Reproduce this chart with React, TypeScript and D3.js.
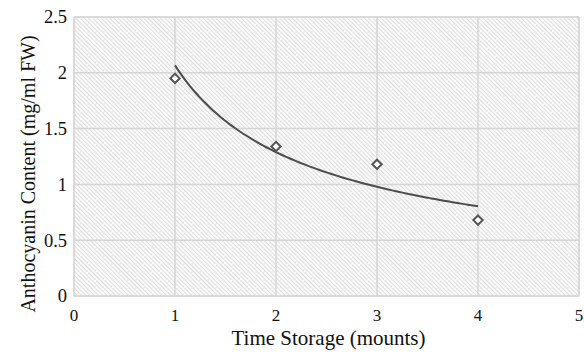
import React from "react";
import * as d3 from "d3";

// data
const months = [1, 2, 3, 4];
const anthocyanin = [1.95, 1.34, 1.18, 0.68];
const xTicks = [0, 1, 2, 3, 4, 5];
const yTicks = [0, 0.5, 1, 1.5, 2, 2.5];

const width = 584;
const height = 352;
const margin = { top: 17, right: 5, bottom: 56, left: 74 };
const font = "'Liberation Serif', 'Times New Roman', serif";

// power trendline y = a * x^b, least squares in log space
const powerFit = (xs: number[], ys: number[]) => {
  const lx = xs.map(Math.log);
  const ly = ys.map(Math.log);
  const mx = d3.mean(lx) as number;
  const my = d3.mean(ly) as number;
  const sxy = d3.sum(lx, (v, i) => (v - mx) * (ly[i] - my));
  const sxx = d3.sum(lx, (v) => (v - mx) * (v - mx));
  const b = sxy / sxx;
  const a = Math.exp(my - b * mx);
  return (x: number) => a * Math.pow(x, b);
};

const App = () => {
  const innerW = width - margin.left - margin.right;
  const innerH = height - margin.top - margin.bottom;

  const x = d3.scaleLinear().domain([0, 5]).range([0, innerW]);
  const y = d3.scaleLinear().domain([0, 2.5]).range([innerH, 0]);

  const fit = powerFit(months, anthocyanin);
  const [x0, x1] = d3.extent(months) as [number, number];
  const fitPts = d3.range(0, 61).map((i) => {
    const xv = x0 + ((x1 - x0) * i) / 60;
    return [xv, fit(xv)] as [number, number];
  });
  const line = d3
    .line<[number, number]>()
    .x((d) => x(d[0]))
    .y((d) => y(d[1]))
    .curve(d3.curveMonotoneX);

  const diamond = d3.symbol().type(d3.symbolDiamond2).size(55)() as string;

  return (
    <svg
      width={width}
      height={height}
      style={{ position: "absolute", left: 0, top: 0, background: "#fff" }}
    >
      <defs>
        <pattern
          id="hatch"
          patternUnits="userSpaceOnUse"
          width={3}
          height={3}
          patternTransform="rotate(-45)"
        >
          <rect width={3} height={3} fill="#fafafa" />
          <line x1={0} y1={0} x2={0} y2={3} stroke="#cfcfcf" strokeWidth={1.3} />
        </pattern>
      </defs>
      <g transform={`translate(${margin.left},${margin.top})`}>
        <rect width={innerW} height={innerH} fill="url(#hatch)" stroke="#d9d9d9" />
        {yTicks.map((t) => (
          <line key={"gy" + t} x1={0} x2={innerW} y1={y(t)} y2={y(t)} stroke="#d6d6d6" strokeWidth={1.5} />
        ))}
        {xTicks.map((t) => (
          <line key={"gx" + t} x1={x(t)} x2={x(t)} y1={0} y2={innerH} stroke="#d6d6d6" strokeWidth={1.5} />
        ))}
        <path d={line(fitPts) as string} fill="none" stroke="#4d4d4d" strokeWidth={2} />
        {months.map((m, i) => (
          <path
            key={"p" + m}
            d={diamond}
            transform={`translate(${x(m)},${y(anthocyanin[i])})`}
            fill="#fff"
            stroke="#555"
            strokeWidth={2}
          />
        ))}
        {yTicks.map((t) => (
          <text
            key={"ty" + t}
            x={-7}
            y={y(t)}
            dy="0.35em"
            textAnchor="end"
            fontFamily={font}
            fontSize={18.5}
            fill="#111"
          >
            {t}
          </text>
        ))}
        {xTicks.map((t) => (
          <text
            key={"tx" + t}
            x={x(t)}
            y={innerH + 25}
            textAnchor="middle"
            fontFamily={font}
            fontSize={17}
            fill="#111"
          >
            {t}
          </text>
        ))}
        <text
          x={innerW / 2 + 2}
          y={innerH + 49}
          textAnchor="middle"
          fontFamily={font}
          fontSize={21}
          fill="#111"
        >
          Time Storage (mounts)
        </text>
        <text
          transform={`translate(${35 - margin.left},${174 - margin.top}) rotate(-90)`}
          textAnchor="middle"
          fontFamily={font}
          fontSize={20}
          fill="#111"
        >
          Anthocyanin Content (mg/ml FW)
        </text>
      </g>
    </svg>
  );
};

export default App;
